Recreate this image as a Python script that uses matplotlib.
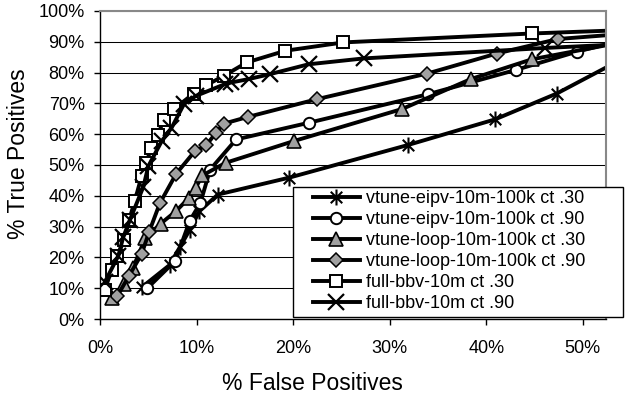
import matplotlib
matplotlib.use("Agg")
import matplotlib.pyplot as plt
from matplotlib.path import Path
from matplotlib.patches import Rectangle

plt.rcParams['font.family'] = ['Liberation Sans', 'DejaVu Sans']

# ROC-style curves: % false positives (x) vs % true positives (y)
eipv30_fp = [4.4, 7.2, 8.3, 9.3, 10.3, 12.2, 19.6, 31.9, 40.9, 47.3, 56.0]
eipv30_tp = [10.5, 17.5, 23.5, 29.0, 35.0, 40.4, 45.9, 56.5, 64.8, 73.2, 87.6]

eipv90_fp = [4.9, 7.8, 9.3, 10.4, 11.4, 14.1, 21.6, 34.0, 43.1, 49.4, 56.0]
eipv90_tp = [10.0, 18.9, 31.9, 37.7, 48.5, 58.3, 63.7, 73.0, 80.9, 86.8, 92.0]

loop30_fp = [1.2, 2.5, 3.4, 4.7, 6.3, 7.9, 9.2, 9.9, 10.6, 13.0, 20.1, 31.3, 38.4, 44.7, 56.0]
loop30_tp = [6.7, 11.4, 16.5, 26.3, 31.0, 35.1, 39.3, 42.6, 46.6, 50.7, 57.8, 68.2, 77.9, 84.3, 91.0]

loop90_fp = [1.8, 3.0, 4.3, 5.1, 6.2, 7.9, 9.8, 11.0, 12.0, 12.8, 15.3, 22.5, 33.9, 41.1, 47.4, 56.0]
loop90_tp = [7.5, 14.0, 21.0, 28.4, 37.6, 47.2, 54.4, 56.4, 60.4, 63.4, 65.6, 71.4, 79.7, 86.2, 90.9, 93.0]

bbv30_fp = [0.5, 1.2, 1.8, 2.5, 3.0, 3.6, 4.3, 4.8, 5.3, 6.0, 6.6, 7.7, 9.7, 11.0, 12.8, 15.2, 19.2, 25.2, 44.7, 56.0]
bbv30_tp = [9.4, 16.0, 20.6, 25.5, 32.0, 38.3, 46.3, 50.7, 55.6, 59.9, 64.6, 68.3, 73.2, 75.9, 78.9, 83.3, 87.1, 89.8, 92.7, 94.0]

bbv90_fp = [0.5, 1.9, 2.4, 3.1, 4.5, 5.0, 6.4, 7.4, 8.7, 9.9, 12.9, 13.6, 15.4, 17.6, 21.6, 27.3, 46.1, 56.0]
bbv90_tp = [12.0, 20.5, 26.5, 32.2, 43.0, 49.6, 57.8, 62.0, 69.8, 72.4, 76.2, 76.8, 77.9, 79.5, 82.7, 84.6, 88.0, 89.5]

labels = ["vtune-eipv-10m-100k ct .30", "vtune-eipv-10m-100k ct .90",
          "vtune-loop-10m-100k ct .30", "vtune-loop-10m-100k ct .90",
          "full-bbv-10m ct .30", "full-bbv-10m ct .90"]
x_ticks = [0, 10, 20, 30, 40, 50]
y_ticks = [0, 10, 20, 30, 40, 50, 60, 70, 80, 90, 100]

# asterisk marker: vertical stroke plus an X
ast = Path([(0, -1), (0, 1), (-0.72, -0.72), (0.72, 0.72), (-0.72, 0.72), (0.72, -0.72)],
           [Path.MOVETO, Path.LINETO, Path.MOVETO, Path.LINETO, Path.MOVETO, Path.LINETO])

W, H = 626, 395
fig = plt.figure(figsize=(W / 100, H / 100), dpi=100)
ax = fig.add_axes([100 / W, 1 - 319 / H, 506 / W, 308 / H])

lw = 2.8
gray = '#a0a0a0'
styles = [
    dict(marker=ast, ms=11.5, mew=1.5, mec='black', mfc='black'),
    dict(marker='o', ms=8.2, mew=1.4, mec='black', mfc='white'),
    dict(marker='^', ms=9.5, mew=1.2, mec='black', mfc=gray),
    dict(marker='D', ms=6.8, mew=1.1, mec='black', mfc=gray),
    dict(marker='s', ms=8.8, mew=1.4, mec='black', mfc='white'),
    dict(marker='x', ms=11.0, mew=1.6, mec='black', mfc='black'),
]
series = [(eipv30_fp, eipv30_tp), (eipv90_fp, eipv90_tp), (loop30_fp, loop30_tp),
          (loop90_fp, loop90_tp), (bbv30_fp, bbv30_tp), (bbv90_fp, bbv90_tp)]

handles = []
for (xs, ys), st, lab in zip(series, styles, labels):
    h, = ax.plot(xs, ys, color='black', lw=lw, label=lab, **st)
    handles.append(h)

ax.set_xlim(0, 52.4)
ax.set_ylim(0, 100)
ax.set_xticks(x_ticks)
ax.set_yticks(y_ticks)
ax.set_xticklabels([f"{v}%" for v in x_ticks])
ax.set_yticklabels([f"{v}%" for v in y_ticks])
ax.tick_params(axis='both', direction='out', length=4, width=1, labelsize=13, colors='black')
ax.tick_params(axis='y', pad=7)
ax.tick_params(axis='x', pad=11)

ax.yaxis.grid(True, color='black', lw=0.75)
ax.set_axisbelow(True)
for s in ('top', 'right'):
    ax.spines[s].set_color('#888888')
    ax.spines[s].set_linewidth(1.5)
for s in ('left', 'bottom'):
    ax.spines[s].set_color('black')
    ax.spines[s].set_linewidth(1.0)

fig.text(312 / W, 1 - 383 / H, "% False Positives", fontsize=16.5, ha='center', va='center')
fig.text(19 / W, 1 - 154 / H, "% True Positives", fontsize=16.5, ha='center', va='center',
         rotation=90)

# legend box
fig.patches.append(Rectangle((293 / W, 1 - 317 / H), 330 / W, 130 / H, transform=fig.transFigure,
                             facecolor='white', edgecolor='black', lw=1.0, zorder=5))
leg = fig.legend(handles=handles, labels=labels, loc='upper left',
                 bbox_to_anchor=(313 / W, 1 - 190 / H), frameon=False, fontsize=13,
                 borderpad=0, borderaxespad=0, handlelength=2.6, handletextpad=0.35,
                 labelspacing=0.22)
leg.set_zorder(6)

fig.savefig("out.png", dpi=100)
